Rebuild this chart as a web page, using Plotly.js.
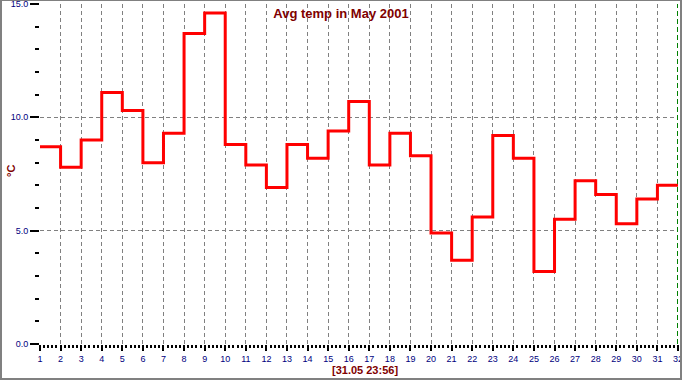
<!DOCTYPE html>
<html>
<head>
<meta charset="utf-8">
<script src="https://cdn.plot.ly/plotly-3.0.1.min.js"></script>
<style>
  html, body { margin: 0; padding: 0; background: #fff; overflow: hidden; }
  #wrap { position: relative; width: 682px; height: 380px; overflow: hidden; }
  #chart { position: absolute; left: 0; top: -20px; width: 700px; height: 400px; }
  #frame { position: absolute; left: 0; top: 0; width: 682px; height: 380px; box-sizing: border-box;
           border-left: 2px solid #808080; border-top: 1px solid #808080;
           border-right: 2px solid #808080; border-bottom: 2px solid #808080; pointer-events: none; }
</style>
</head>
<body>
<div id="wrap"><div id="chart"></div><div id="frame"></div></div>
<script>
// Day of month (May 2001)
var days = [1,2,3,4,5,6,7,8,9,10,11,12,13,14,15,16,17,18,19,20,21,22,23,24,25,26,27,28,29,30,31];
// Average temperature per day, degrees C
var avgTemp = [8.7,7.8,9.0,11.1,10.3,8.0,9.3,13.7,14.6,8.8,7.9,6.9,8.8,8.2,9.4,10.7,7.9,9.3,8.3,4.9,3.7,5.6,9.2,8.2,3.2,5.5,7.2,6.6,5.3,6.4,7.0];
var yTicks = [0, 5, 10, 15];
var yGrid = [5, 10];
var titleText = "Avg temp in May 2001";
var yTitle = "°C";
var stampText = "[31.05 23:56]";

var lastDay = days[days.length - 1];
var endX = lastDay + 1;
var xs = days.concat([endX]);
var ys = avgTemp.concat([avgTemp[avgTemp.length - 1]]);
var xTicks = xs.slice();
var xGrid = xs.slice(1, xs.length - 1);

// chart canvas is slightly larger than the visible window so edge labels are not dropped
var W = 700, H = 400, OFF = 20;
var tickFont = { family: "Arial, 'Liberation Sans', sans-serif", size: 9, color: "#000080" };
var redFont = { family: "Arial, 'Liberation Sans', sans-serif", size: 11, color: "#800000", weight: "bold" };

var traces = [
  { x: xs, y: ys, type: "scatter", mode: "lines", line: { shape: "hv", color: "#ff0000", width: 3 },
    hoverinfo: "x+y", showlegend: false },
  { x: [], y: [], type: "scatter", mode: "lines", xaxis: "x2", yaxis: "y2", showlegend: false, hoverinfo: "skip" }
];

var layout = {
  width: W, height: H,
  margin: { l: 40, r: W - 678, t: 4 + OFF, b: H - OFF - 344 },
  paper_bgcolor: "#ffffff", plot_bgcolor: "#ffffff",
  showlegend: false,
  title: { text: titleText, xref: "container", x: 341 / W, xanchor: "center", yref: "container", y: 1 - (13 + OFF) / H, yanchor: "middle",
           font: { family: "Arial, 'Liberation Sans', sans-serif", size: 13, color: "#800000", weight: "bold" } },
  xaxis: {
    range: [days[0], endX], tickmode: "array", tickvals: xTicks, ticktext: xTicks.map(String),
    showgrid: false, zeroline: false, showline: false,
    ticks: "outside", ticklen: 6, tickwidth: 2, tickcolor: "#000000",
    tickfont: tickFont,
    minor: { dtick: 0.2, tick0: 1, ticks: "outside", ticklen: 3, tickwidth: 2, tickcolor: "#000000", showgrid: false }
  },
  yaxis: {
    range: [yTicks[0], yTicks[yTicks.length - 1]], tickmode: "array", tickvals: yTicks,
    ticktext: yTicks.map(function (v) { return v.toFixed(1); }),
    showgrid: false, zeroline: false, showline: false,
    ticks: "outside", ticklen: 9, tickwidth: 2, tickcolor: "#000000",
    tickfont: tickFont,
    minor: { dtick: 1, tick0: 0, ticks: "outside", ticklen: 4, tickwidth: 2, tickcolor: "#000000", showgrid: false }
  },
  xaxis2: {
    overlaying: "x", anchor: "y2", range: [days[0], endX], tickmode: "array", tickvals: xGrid,
    showticklabels: false, ticks: "", showgrid: true, gridcolor: "#808080", gridwidth: 1, griddash: "4px,3px",
    zeroline: false, showline: false
  },
  yaxis2: {
    overlaying: "y", anchor: "x2", range: [yTicks[0], yTicks[yTicks.length - 1]], tickmode: "array", tickvals: yGrid,
    showticklabels: false, ticks: "", showgrid: true, gridcolor: "#808080", gridwidth: 1, griddash: "4px,3px",
    zeroline: false, showline: false
  },
  shapes: [
    { type: "line", xref: "x", yref: "paper", x0: endX, x1: endX, y0: 0, y1: 1, layer: "above",
      line: { color: "#008000", width: 2, dash: "5px,3px" } }
  ],
  annotations: [
    { text: yTitle, xref: "paper", yref: "paper", x: (11 - 40) / 638, y: (344 - 171) / 340, textangle: -90,
      xanchor: "center", yanchor: "middle", showarrow: false, font: redFont },
    { text: stampText, xref: "paper", yref: "paper", x: (365 - 40) / 638, y: -(370 - 344) / 340,
      xanchor: "center", yanchor: "middle", showarrow: false, font: redFont }
  ]
};

Plotly.newPlot("chart", traces, layout, { displayModeBar: false, staticPlot: true });
</script>
</body>
</html>
